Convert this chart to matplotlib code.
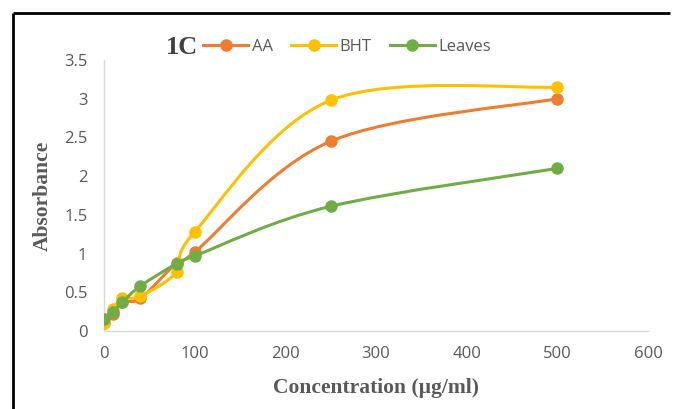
import numpy as np
import matplotlib
matplotlib.use("Agg")
import matplotlib.pyplot as plt
from matplotlib.lines import Line2D
from matplotlib.path import Path
from matplotlib.patches import PathPatch

# data
conc = [0, 10, 20, 40, 80, 100, 250, 500]
aa = [0.10, 0.22, 0.38, 0.42, 0.88, 1.02, 2.45, 3.00]
bht = [0.10, 0.28, 0.42, 0.45, 0.76, 1.28, 2.98, 3.15]
leaves = [0.16, 0.25, 0.37, 0.58, 0.87, 0.97, 1.61, 2.10]

series_names = ["AA", "BHT", "Leaves"]
series_colors = ["#ED7D31", "#FFC000", "#70AD47"]
x_ticks = [0, 100, 200, 300, 400, 500, 600]
y_ticks = [0, 0.5, 1, 1.5, 2, 2.5, 3, 3.5]
y_tick_labels = ["0", "0.5", "1", "1.5", "2", "2.5", "3", "3.5"]

TICK_FONT = ["Open Sans", "DejaVu Sans"]
SERIF = ["Liberation Serif", "DejaVu Serif"]
GREY = "#595959"


def smooth_path(ax, xs, ys):
    """Excel style smoothed line (Catmull-Rom bezier in screen space)."""
    pts = ax.transData.transform(np.column_stack([xs, ys]))
    n = len(pts)
    verts = [pts[0]]
    codes = [Path.MOVETO]
    for i in range(n - 1):
        p0 = pts[max(i - 1, 0)]
        p1 = pts[i]
        p2 = pts[i + 1]
        p3 = pts[min(i + 2, n - 1)]
        c1 = p1 + (p2 - p0) / 6.0
        c2 = p2 - (p3 - p1) / 6.0
        verts += [c1, c2, p2]
        codes += [Path.CURVE4] * 3
    verts = ax.transData.inverted().transform(np.array(verts))
    return Path(verts, codes)


fig = plt.figure(figsize=(6.74, 4.09), dpi=100)
ax = fig.add_axes([104 / 674, 1 - 331 / 409, 544 / 674, 271 / 409])
ax.set_xlim(0, 600)
ax.set_ylim(0, 3.5)

for name, vals, color, z in zip(series_names, [aa, bht, leaves], series_colors, [3, 4, 5]):
    path = smooth_path(ax, conc, vals)
    ax.add_patch(PathPatch(path, fill=False, edgecolor=color, lw=2.2,
                           capstyle="round", joinstyle="round", zorder=z))
    ax.plot(conc, vals, "o", ms=8, color=color, zorder=z)

ax.set_xticks(x_ticks)
ax.set_yticks(y_ticks)
ax.set_yticklabels(y_tick_labels)
ax.tick_params(length=0, colors=GREY, labelsize=12)
ax.tick_params(axis="x", pad=11)
ax.tick_params(axis="y", pad=12)
for lab in ax.get_xticklabels() + ax.get_yticklabels():
    lab.set_family(TICK_FONT)

for side in ["top", "right"]:
    ax.spines[side].set_visible(False)
for side in ["left", "bottom"]:
    ax.spines[side].set_color("#D9D9D9")
    ax.spines[side].set_linewidth(1.0)

ax.set_xlabel("Concentration (µg/ml)", family=SERIF, fontweight="bold",
              fontsize=15.5, color=GREY)
ax.set_ylabel("Absorbance", family=SERIF, fontweight="bold",
              fontsize=15.5, color=GREY)
ax.xaxis.set_label_coords(0.5, -0.175)
ax.yaxis.set_label_coords(-0.095, 0.5)

handles = [Line2D([], [], color=c, lw=2.2, marker="o", ms=8) for c in series_colors]
leg = fig.legend(handles, series_names, loc="center", ncol=3, frameon=False,
                 bbox_to_anchor=(347 / 674, 1 - 47 / 409),
                 prop={"family": TICK_FONT, "size": 12},
                 handlelength=2.7, handletextpad=0.2, columnspacing=1.1,
                 borderpad=0, borderaxespad=0)
for t in leg.get_texts():
    t.set_color(GREY)

fig.text(166 / 674, 1 - 47 / 409, "1C", family=SERIF, fontweight="bold",
         fontsize=19, color="#404040", ha="left", va="center")

# black frame lines (top and left only)
fig.add_artist(Line2D([13 / 674, 670 / 674], [1 - 13 / 409, 1 - 13 / 409],
                      color="black", lw=2, solid_capstyle="butt",
                      transform=fig.transFigure))
fig.add_artist(Line2D([13 / 674, 13 / 674], [1 - 13 / 409, 0],
                      color="black", lw=2, solid_capstyle="butt",
                      transform=fig.transFigure))

fig.savefig("out.png", dpi=100)
